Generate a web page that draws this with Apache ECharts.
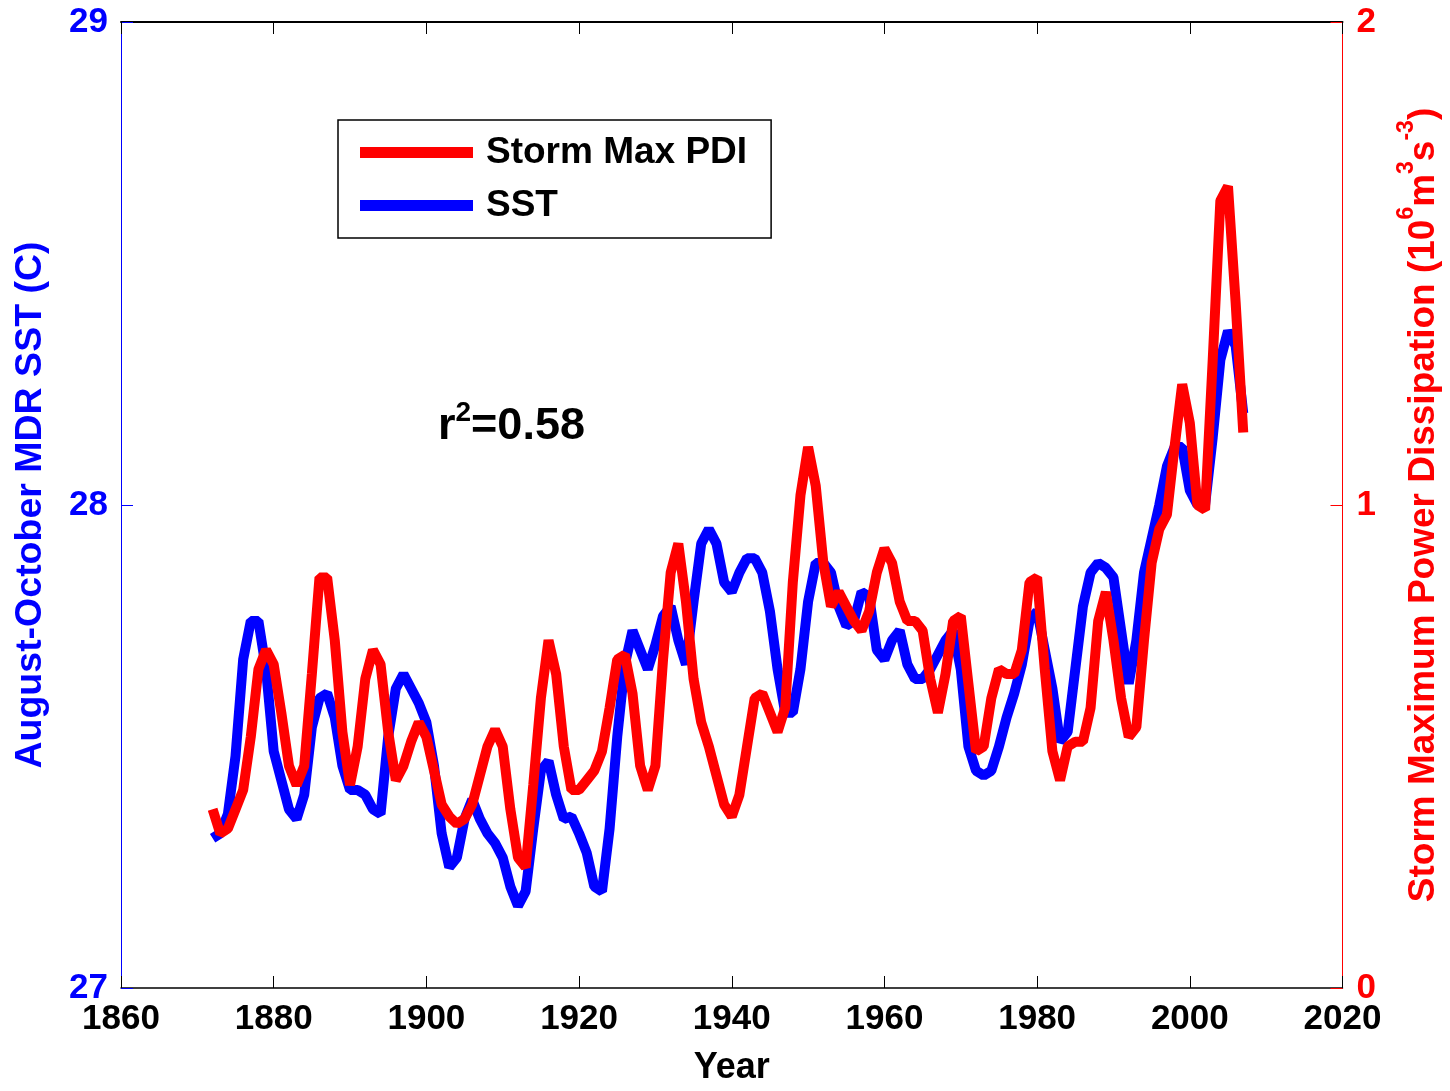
<!DOCTYPE html>
<html>
<head>
<meta charset="utf-8">
<script src="https://cdn.jsdelivr.net/npm/echarts@6/dist/echarts.min.js"></script>
<style>
html,body{margin:0;padding:0;background:#fff;}
#chart{width:1450px;height:1091px;}
</style>
</head>
<body>
<div id="chart"></div>
<script>
var years = [1872,1873,1874,1875,1876,1877,1878,1879,1880,1881,
1882,1883,1884,1885,1886,1887,1888,1889,1890,1891,
1892,1893,1894,1895,1896,1897,1898,1899,1900,1901,
1902,1903,1904,1905,1906,1907,1908,1909,1910,1911,
1912,1913,1914,1915,1916,1917,1918,1919,1920,1921,
1922,1923,1924,1925,1926,1927,1928,1929,1930,1931,
1932,1933,1934,1935,1936,1937,1938,1939,1940,1941,
1942,1943,1944,1945,1946,1947,1948,1949,1950,1951,
1952,1953,1954,1955,1956,1957,1958,1959,1960,1961,
1962,1963,1964,1965,1966,1967,1968,1969,1970,1971,
1972,1973,1974,1975,1976,1977,1978,1979,1980,1981,
1982,1983,1984,1985,1986,1987,1988,1989,1990,1991,
1992,1993,1994,1995,1996,1997,1998,1999,2000,2001,
2002,2003,2004,2005,2006,2007];

var sst = [27.31,27.32,27.36,27.48,27.68,27.76,27.76,27.66,27.49,27.43,
27.37,27.35,27.40,27.54,27.60,27.61,27.56,27.46,27.41,27.41,
27.40,27.37,27.36,27.52,27.62,27.65,27.62,27.59,27.55,27.46,
27.32,27.25,27.27,27.35,27.39,27.35,27.32,27.30,27.27,27.21,
27.17,27.20,27.33,27.45,27.47,27.40,27.35,27.355,27.32,27.28,
27.21,27.20,27.33,27.52,27.67,27.74,27.70,27.66,27.71,27.77,
27.79,27.72,27.67,27.80,27.92,27.95,27.92,27.84,27.82,27.86,
27.89,27.89,27.86,27.78,27.66,27.57,27.57,27.66,27.80,27.88,
27.88,27.86,27.79,27.75,27.76,27.82,27.81,27.70,27.68,27.72,
27.74,27.67,27.64,27.64,27.66,27.69,27.72,27.74,27.66,27.50,
27.45,27.44,27.45,27.50,27.56,27.61,27.67,27.76,27.78,27.70,
27.62,27.51,27.53,27.66,27.79,27.86,27.88,27.87,27.85,27.74,
27.63,27.72,27.86,27.93,28.00,28.08,28.12,28.12,28.03,28.00,
28.00,28.14,28.30,28.36,28.33,28.19];

var pdi = [0.37,0.32,0.33,0.37,0.41,0.52,0.66,0.70,0.67,0.57,
0.46,0.42,0.46,0.65,0.85,0.85,0.72,0.53,0.42,0.50,
0.64,0.70,0.67,0.53,0.43,0.46,0.51,0.55,0.52,0.45,
0.38,0.355,0.34,0.35,0.38,0.44,0.50,0.535,0.50,0.37,
0.27,0.25,0.42,0.60,0.72,0.65,0.50,0.41,0.41,0.43,
0.45,0.49,0.58,0.68,0.69,0.61,0.46,0.41,0.46,0.68,
0.86,0.92,0.80,0.64,0.55,0.50,0.44,0.38,0.355,0.40,
0.50,0.60,0.61,0.57,0.53,0.58,0.84,1.02,1.12,1.04,
0.88,0.79,0.82,0.79,0.76,0.74,0.78,0.86,0.91,0.88,
0.80,0.76,0.76,0.74,0.64,0.57,0.65,0.76,0.77,0.63,
0.49,0.50,0.60,0.66,0.65,0.65,0.70,0.84,0.85,0.66,
0.49,0.43,0.50,0.51,0.51,0.58,0.76,0.82,0.72,0.60,
0.52,0.54,0.72,0.88,0.95,0.98,1.12,1.25,1.17,1.00,
0.99,1.30,1.63,1.66,1.42,1.15];

var xTicks = [1860, 2020, 20];
var sstTicks = [27, 29, 1];
var pdiTicks = [0, 2, 1];
var seriesNames = ['Storm Max PDI', 'SST'];
var rText = '0.58';

var FONT = 'Liberation Sans';
var chart = echarts.init(document.getElementById('chart'));

var sstData = years.map(function (y, i) { return [y, sst[i]]; });
var pdiData = years.map(function (y, i) { return [y, pdi[i]]; });

var option = {
  backgroundColor: '#fff',
  animation: false,
  grid: { left: 121, right: 102, top: 22, bottom: 99, containLabel: false },
  legend: {
    data: seriesNames,
    orient: 'vertical',
    left: 338, top: 120,
    backgroundColor: '#fff',
    borderColor: '#000', borderWidth: 1.5,
    padding: [14, 24, 14, 22],
    itemGap: 16,
    itemWidth: 113, itemHeight: 11,
    icon: 'rect',
    textStyle: { fontFamily: FONT, fontWeight: 'bold', fontSize: 37, color: '#000', padding: [0, 0, 0, 8] }
  },
  xAxis: [{
    type: 'value', position: 'bottom',
    min: xTicks[0], max: xTicks[1], interval: xTicks[2],
    name: 'Year', nameLocation: 'middle', nameGap: 62,
    nameTextStyle: { fontFamily: FONT, fontWeight: 'bold', fontSize: 36, color: '#000' },
    axisLine: { show: true, onZero: false, lineStyle: { color: '#000', width: 1.5 } },
    axisTick: { show: true, inside: true, length: 12, lineStyle: { color: '#000', width: 1 } },
    axisLabel: { show: true, margin: 14, fontFamily: FONT, fontWeight: 'bold', fontSize: 35, color: '#000',
      formatter: function (v) { return String(v); } },
    splitLine: { show: false }
  }, {
    type: 'value', position: 'top',
    min: xTicks[0], max: xTicks[1], interval: xTicks[2],
    axisLine: { show: true, onZero: false, lineStyle: { color: '#000', width: 2 } },
    axisTick: { show: true, inside: true, length: 12, lineStyle: { color: '#000', width: 1 } },
    axisLabel: { show: false },
    splitLine: { show: false }
  }],
  yAxis: [{
    type: 'value', position: 'left',
    min: sstTicks[0], max: sstTicks[1], interval: sstTicks[2],
    name: 'August-October MDR SST (C)', nameLocation: 'middle', nameGap: 71, nameRotate: 90,
    nameTextStyle: { fontFamily: FONT, fontWeight: 'bold', fontSize: 37.5, color: '#0000ff' },
    axisLine: { show: true, onZero: false, lineStyle: { color: '#0000ff', width: 1 } },
    axisTick: { show: true, inside: true, length: 12, lineStyle: { color: '#0000ff', width: 1 } },
    axisLabel: { margin: 13, fontFamily: FONT, fontWeight: 'bold', fontSize: 35, color: '#0000ff' },
    splitLine: { show: false }
  }, {
    type: 'value', position: 'right',
    min: pdiTicks[0], max: pdiTicks[1], interval: pdiTicks[2],
    name: '{t|Storm Maximum Power Dissipation (10}{s|6}{t|m}{s|3}{t|s}{s|-3}{t|)}',
    nameLocation: 'middle', nameGap: 53, nameRotate: 90,
    nameTextStyle: {
      fontFamily: FONT, fontWeight: 'bold', fontSize: 37, color: '#ff0000',
      rich: {
        t: { fontFamily: FONT, fontWeight: 'bold', fontSize: 37, lineHeight: 56, color: '#ff0000' },
        s: { fontFamily: FONT, fontWeight: 'bold', fontSize: 23, lineHeight: 16, color: '#ff0000', verticalAlign: 'top' }
      }
    },
    axisLine: { show: true, onZero: false, lineStyle: { color: '#ff0000', width: 1 } },
    axisTick: { show: true, inside: true, length: 12, lineStyle: { color: '#ff0000', width: 1 } },
    axisLabel: { margin: 14, fontFamily: FONT, fontWeight: 'bold', fontSize: 35, color: '#ff0000' },
    splitLine: { show: false }
  }],
  graphic: [{
    type: 'text', left: 438, top: 399, z: 10,
    style: {
      text: '{a|r}{b|2}{a|=' + rText + '}',
      rich: {
        a: { fontFamily: FONT, fontWeight: 'bold', fontSize: 45, lineHeight: 56, fill: '#000' },
        b: { fontFamily: FONT, fontWeight: 'bold', fontSize: 28, lineHeight: 18, fill: '#000', verticalAlign: 'top' }
      }
    }
  }],
  series: [{
    name: seriesNames[1], type: 'line', xAxisIndex: 0, yAxisIndex: 0,
    data: sstData, showSymbol: false, symbol: 'none', smooth: false,
    lineStyle: { color: '#0000ff', width: 10 }, itemStyle: { color: '#0000ff' }, z: 2
  }, {
    name: seriesNames[0], type: 'line', xAxisIndex: 0, yAxisIndex: 1,
    data: pdiData, showSymbol: false, symbol: 'none', smooth: false,
    lineStyle: { color: '#ff0000', width: 10 }, itemStyle: { color: '#ff0000' }, z: 3
  }]
};
chart.setOption(option);
</script>
</body>
</html>
